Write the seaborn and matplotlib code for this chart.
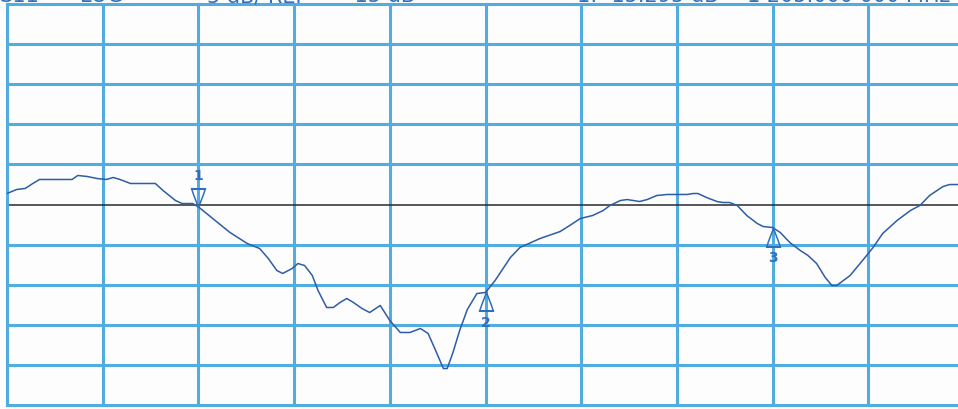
import numpy as np
import matplotlib
matplotlib.use("Agg")
import matplotlib.pyplot as plt
from matplotlib.path import Path
from matplotlib.markers import MarkerStyle
import seaborn as sns

# Sweep position (graticule divisions) and S11 return loss (dB)
sweep_div = [0.00, 0.10, 0.19, 0.27, 0.34, 0.68, 0.74, 0.84, 0.94, 1.04,
             1.11, 1.18, 1.29, 1.42, 1.55, 1.63, 1.76, 1.83, 1.94, 2.00,
             2.15, 2.33, 2.51, 2.64, 2.73, 2.82, 2.88, 2.98, 3.04, 3.11,
             3.19, 3.25, 3.34, 3.41, 3.48, 3.55, 3.62, 3.71, 3.79, 3.90,
             4.00, 4.11, 4.21, 4.32, 4.40, 4.47, 4.56, 4.60, 4.66, 4.73,
             4.81, 4.91, 5.00, 5.10, 5.17, 5.26, 5.36, 5.57, 5.78, 5.88,
             5.99, 6.12, 6.23, 6.30, 6.41, 6.48, 6.61, 6.69, 6.79, 6.90,
             7.11, 7.17, 7.22, 7.31, 7.42, 7.48, 7.55, 7.63, 7.73, 7.84,
             7.90, 8.00, 8.08, 8.18, 8.29, 8.37, 8.46, 8.55, 8.62, 8.67,
             8.81, 8.94, 9.05, 9.15, 9.30, 9.44, 9.54, 9.64, 9.78, 9.85,
             9.94, 10.00]
s11_db = [-13.63, -13.13, -13.00, -12.38, -11.88, -11.88, -11.38, -11.51, -11.76, -11.88,
          -11.63, -11.88, -12.38, -12.38, -12.38, -13.25, -14.50, -14.88, -14.88, -15.295,
          -16.75, -18.49, -19.86, -20.49, -21.73, -23.23, -23.60, -22.98, -22.36, -22.61,
          -23.85, -25.72, -27.84, -27.84, -27.22, -26.72, -27.22, -27.97, -28.47, -27.59,
          -29.46, -30.96, -30.96, -30.46, -31.08, -32.96, -35.45, -35.45, -33.45, -30.71,
          -28.09, -26.10, -25.97, -24.48, -23.23, -21.61, -20.36, -19.24, -18.37, -17.62,
          -16.75, -16.37, -15.75, -15.12, -14.50, -14.38, -14.63, -14.38, -13.88, -13.75,
          -13.75, -13.63, -13.63, -14.13, -14.63, -14.75, -14.75, -15.12, -16.37, -17.37,
          -17.74, -17.87, -18.49, -19.74, -20.74, -21.36, -22.36, -24.10, -25.10, -25.10,
          -23.85, -21.98, -20.36, -18.62, -17.00, -15.75, -15.12, -13.88, -12.76, -12.51,
          -12.51, -12.38]

# Markers
marker_ids = ["1", "2", "3"]
marker_div = [2.00, 5.00, 8.00]
marker_db = [-15.295, -25.97, -17.87]

# Display settings
ref_db = -15
scale_db = 5
n_div = 10
header_left = [("S11", 0), ("LOG", 80), ("5 dB/ REF", 207), ("-15 dB", 347)]
header_right = [("1: -15.295 dB", 577), ("1 205.000 000 MHz", 747)]

GRID = "#51ade0"
TRACE = "#2d5da6"
TEXT = "#2f6fbf"

sns.set_style("white")
plt.rcParams["font.family"] = ["DejaVu Sans"]

W, H = 958, 409
fig = plt.figure(figsize=(W / 100, H / 100), dpi=100)
fig.patch.set_facecolor("#fdfdfe")
# graticule spans 7..964 px horizontally, 4..405 px vertically
ax = fig.add_axes([7 / W, 4 / H, 957 / W, 401 / H])
ax.set_facecolor("#fdfdfe")

top_db = ref_db + scale_db * n_div / 2
bot_db = ref_db - scale_db * n_div / 2
ax.set_xlim(0, n_div)
ax.set_ylim(bot_db, top_db)

for d in range(1, n_div):
    ax.axvline(d, color=GRID, lw=2.2, zorder=1)
for k in range(1, n_div):
    y = bot_db + k * scale_db
    if y != ref_db:
        ax.axhline(y, color=GRID, lw=2.2, zorder=1)
for sp in ax.spines.values():
    sp.set_color(GRID)
    sp.set_linewidth(2.2)
ax.set_xticks([])
ax.set_yticks([])

# reference level line
ax.axhline(ref_db, color="#2a2a2a", lw=1.1, zorder=2)

sns.lineplot(x=sweep_div, y=s11_db, ax=ax, color=TRACE, lw=1.1,
             sort=False, zorder=3)

# marker glyphs: tip at the trace point
down_verts = [(0, 0), (-5, -13), (-7, -19), (7, -19), (5, -13), (0, 0),
              (-8, -19.5), (8, -19.5)]
down_codes = [Path.MOVETO, Path.LINETO, Path.LINETO, Path.LINETO, Path.LINETO,
              Path.LINETO, Path.MOVETO, Path.LINETO]
down_path = Path([(x, -y) for x, y in down_verts], down_codes)   # points downward, sits above
up_path = Path(down_verts, down_codes)                             # points upward, sits below

for i, (mid, mx, my) in enumerate(zip(marker_ids, marker_div, marker_db)):
    active = i == 0
    ms = MarkerStyle(down_path if active else up_path)
    ax.plot([mx], [my], marker=ms, markersize=27, markerfacecolor="none",
            markeredgecolor=TEXT, markeredgewidth=1.1, ls="none", zorder=4)
    off = 22 if active else -22
    ax.annotate(mid, (mx, my), xytext=(0, off), textcoords="offset points",
                ha="center", va="center", fontsize=10, color=TEXT,
                fontweight="bold", zorder=4)

# header annotations along the top edge of the sheet
for s, x in header_left + header_right:
    fig.text(x / W, 407 / H, s, ha="left", va="baseline", fontsize=15,
             color=TEXT)

fig.savefig("out.png", dpi=100, facecolor=fig.get_facecolor())
